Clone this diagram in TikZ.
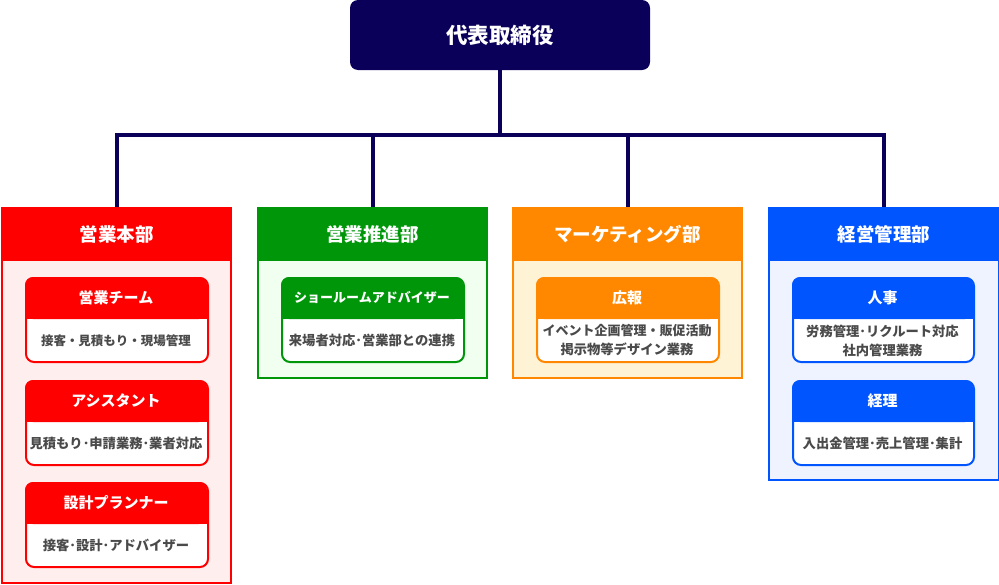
\documentclass[tikz,border=0pt]{standalone}
\usepackage{fontspec}
\setmainfont{Noto Sans CJK JP}
\definecolor{navy}{HTML}{0A0059}
\definecolor{cred}{HTML}{FF0000}
\definecolor{cgreen}{HTML}{00960A}
\definecolor{corange}{HTML}{FF8800}
\definecolor{cblue}{HTML}{0055FF}
\definecolor{fred}{HTML}{FFEEEE}
\definecolor{fgreen}{HTML}{F0FFF0}
\definecolor{forange}{HTML}{FFF3D6}
\definecolor{fblue}{HTML}{EEF3FF}
\definecolor{bodytext}{HTML}{4A4A4A}
\newcommand{\fsz}[2]{\fontsize{#1}{#2}\selectfont}
\tikzset{
  x=1pt, y=-1pt,
  conn/.style={draw=navy, line width=4pt, line join=miter},
  ceobox/.style={fill=navy, rounded corners=8pt, minimum width=300pt, minimum height=70pt, inner sep=0pt, text=white, font=\bfseries\fsz{21.5}{26}},
  deptbox/.style={draw=c#1, fill=f#1, line width=2pt, inner sep=0pt, anchor=north west},
  depthead/.style={draw=c#1, fill=c#1, line width=2pt, inner sep=0pt, anchor=north west, minimum height=52pt, text=white, font=\bfseries\fsz{18.5}{22}},
  ihead/.style={text=white, inner sep=0pt, font=\bfseries\fsz{15}{18}},
  ibody/.style={text=bodytext, inner sep=0pt, align=center, font=\bfseries\fsz{13.3}{19}},
}
% name, x0, y0, x1, yh, y1, color, header, body
\newcommand{\ibox}[9]{%
  \node[draw=c#7, fill=white, line width=2pt, rounded corners=8pt, inner sep=0pt, anchor=north west,
        minimum width={#4-#2-2}, minimum height={#6-#3-2}] (#1) at ({#2+1},{#3+1}) {};
  \fill[c#7, rounded corners=8pt] ({#2+1},{#3+1}) rectangle ({#4-1},{#5});
  \fill[c#7] ({#2+1},{#5-10}) rectangle ({#4-1},{#5});
  \node[ihead] (#1h) at ({(#2+#4)/2},{(#3+#5)/2}) {#8};
  \node[ibody] (#1b) at ({(#2+#4)/2},{(#5+#6)/2}) {#9};
}
\begin{document}
\begin{tikzpicture}
\fill[white] (0,0) rectangle (999,584);
\useasboundingbox (0,0) rectangle (999,584);

\node[ceobox] (ceo) at (500,35) {代表取締役};

% departments
\node[deptbox=red, minimum width=229pt, minimum height=375pt] (d1) at (1,207) {};
\node[depthead=red, minimum width=229pt] (h1) at (1,207) {営業本部};
\node[deptbox=green, minimum width=229pt, minimum height=170pt] (d2) at (257,207) {};
\node[depthead=green, minimum width=229pt] (h2) at (257,207) {営業推進部};
\node[deptbox=orange, minimum width=229pt, minimum height=170pt] (d3) at (512,207) {};
\node[depthead=orange, minimum width=229pt] (h3) at (512,207) {マーケティング部};
\node[deptbox=blue, minimum width=230pt, minimum height=272pt] (d4) at (768,207) {};
\node[depthead=blue, minimum width=230pt] (h4) at (768,207) {経営管理部};

% inner boxes
\ibox{r1}{24}{276}{208}{319}{362}{red}{営業チーム}{\fsz{12.5}{16}接客・見積もり・現場管理}
\ibox{r2}{24}{379}{208}{422}{465}{red}{アシスタント}{見積もり･申請業務･業者対応}
\ibox{r3}{24}{481}{208}{524}{567}{red}{設計プランナー}{接客･設計･アドバイザー}
\ibox{g1}{280}{276}{464}{319}{362}{green}{\fsz{13}{16}ショールームアドバイザー}{来場者対応･営業部との連携}
\ibox{o1}{535}{276}{719}{319}{362}{orange}{広報}{\fsz{13}{19}イベント企画管理・販促活動\\掲示物等デザイン業務}
\ibox{b1}{791}{276}{974}{319}{362}{blue}{人事}{労務管理･リクルート対応\\社内管理業務}
\ibox{b2}{791}{379}{974}{422}{465}{blue}{経理}{入出金管理･売上管理･集計}

% connectors
\coordinate (bus) at (500,135);
\draw[conn] (ceo.south) -- (ceo.south |- bus);
\draw[conn] (h1.north) -- (h1.north |- bus) -- (h4.north |- bus) -- (h4.north);
\draw[conn] (h2.north) -- (h2.north |- bus);
\draw[conn] (h3.north) -- (h3.north |- bus);
\end{tikzpicture}
\end{document}
